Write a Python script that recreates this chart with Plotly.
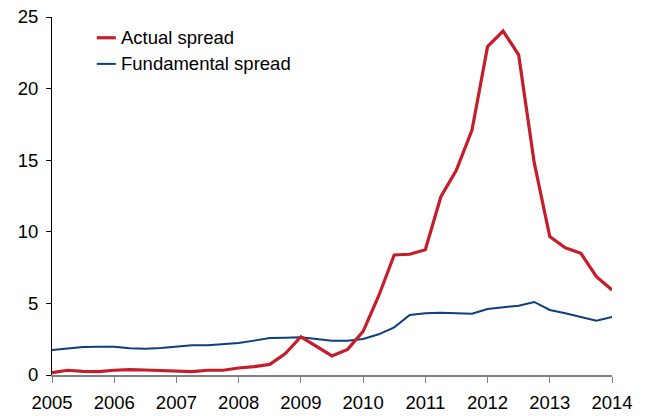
import plotly.graph_objects as go

quarters = [2005 + 0.25 * i for i in range(37)]
actual_spread = [0.16, 0.33, 0.26, 0.23, 0.33, 0.37, 0.35, 0.30, 0.30, 0.23, 0.33, 0.33,
                 0.49, 0.58, 0.74, 1.50, 2.67, 1.98, 1.33, 1.79,
                 3.05, 5.52, 8.38, 8.43, 8.75, 12.45, 14.32, 17.11, 22.93, 24.02, 22.35,
                 14.83, 9.66, 8.89, 8.50, 6.87, 5.94]
fundamental_spread = [1.74, 1.86, 1.95, 1.98, 1.98, 1.86, 1.84, 1.88, 1.98, 2.07, 2.07, 2.14,
                      2.23, 2.40, 2.58, 2.60, 2.63, 2.51, 2.40, 2.40,
                      2.51, 2.84, 3.33, 4.19, 4.31, 4.35, 4.31, 4.28, 4.61, 4.73, 4.84,
                      5.10, 4.54, 4.31, 4.05, 3.79, 4.05]
year_ticks = list(range(2005, 2015))
y_ticks = [0, 5, 10, 15, 20, 25]

RED = "#C41E2A"
BLUE = "#0B3F7D"
FONT = "Liberation Sans, Arial, sans-serif"
FS = 18.5

fig = go.Figure()
fig.add_trace(go.Scatter(x=quarters, y=fundamental_spread, mode="lines",
                         line=dict(color=BLUE, width=2), name="Fundamental spread",
                         showlegend=False))
fig.add_trace(go.Scatter(x=quarters, y=actual_spread, mode="lines",
                         line=dict(color=RED, width=3.2), name="Actual spread",
                         showlegend=False))

# manual legend
legend_items = [("Actual spread", RED, 3.2, 0.942), ("Fundamental spread", BLUE, 2, 0.869)]
for label, col, w, yp in legend_items:
    fig.add_shape(type="line", xref="paper", yref="paper", x0=0.080, x1=0.114, y0=yp, y1=yp,
                  line=dict(color=col, width=w))
    fig.add_annotation(text=label, xref="paper", yref="paper", x=0.119, y=yp,
                       xanchor="left", yanchor="middle", showarrow=False,
                       font=dict(family=FONT, size=FS, color="#000"))

fig.update_layout(
    width=648, height=416,
    margin=dict(l=44, r=44, t=9, b=49),
    paper_bgcolor="white", plot_bgcolor="white",
    font=dict(family=FONT, size=FS, color="#000"),
    showlegend=False,
)
fig.update_xaxes(range=[2005, 2014], tickvals=year_ticks, ticktext=[str(y) for y in year_ticks],
                 showgrid=False, zeroline=False, showline=True, linecolor="#808080", linewidth=1.5,
                 ticks="outside", ticklen=6, tickcolor="#808080", tickwidth=1,
                 ticklabelstandoff=4, ticklabeloverflow="allow", automargin=False,
                 tickfont=dict(family=FONT, size=FS))
fig.update_yaxes(range=[0, 25], tickvals=y_ticks, showgrid=False, zeroline=False,
                 showline=True, linecolor="#000", linewidth=1,
                 ticks="outside", ticklen=5, tickcolor="#000", tickwidth=1,
                 ticklabelstandoff=4, ticklabeloverflow="allow", automargin=False,
                 tickfont=dict(family=FONT, size=FS))

fig.write_html("out.html")
